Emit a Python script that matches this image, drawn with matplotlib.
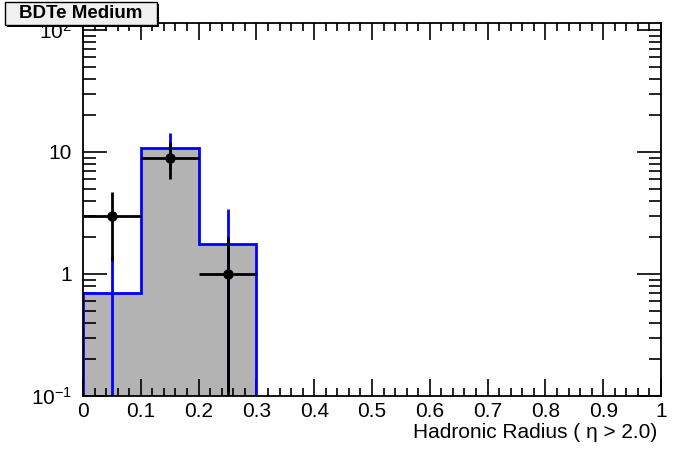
import numpy as np
import matplotlib
matplotlib.use("Agg")
import matplotlib.pyplot as plt
from matplotlib.ticker import FixedLocator, LogLocator, NullFormatter, MultipleLocator
from matplotlib.patches import Rectangle

plt.rcParams['font.family'] = ['Liberation Sans', 'DejaVu Sans']
plt.rcParams['mathtext.fontset'] = 'custom'
plt.rcParams['mathtext.rm'] = 'Liberation Sans'
plt.rcParams['mathtext.it'] = 'Liberation Sans:italic'

# Data
bin_edges = [0.0, 0.1, 0.2, 0.3, 0.4, 0.5, 0.6, 0.7, 0.8, 0.9, 1.0]
mc_values = [0.7, 10.8, 1.76, 0, 0, 0, 0, 0, 0, 0]
mc_errors = [0.7, 3.5, 1.65, 0, 0, 0, 0, 0, 0, 0]
data_values = [3, 9, 1, 0, 0, 0, 0, 0, 0, 0]
data_errors = [1.73, 3.0, 1.0, 0, 0, 0, 0, 0, 0, 0]
title = "BDTe Medium"
xlabel = "Hadronic Radius ( \u03b7 > 2.0)"
ytick_vals = [0.1, 1, 10, 100]
ytick_labels = ["$10^{-1}$", "1", "10", "$10^{2}$"]
xtick_vals = [0, 0.1, 0.2, 0.3, 0.4, 0.5, 0.6, 0.7, 0.8, 0.9, 1.0]
xtick_labels = ["0", "0.1", "0.2", "0.3", "0.4", "0.5", "0.6", "0.7", "0.8", "0.9", "1"]

ymin, ymax = 0.1, 10**2.057
tiny = 1e-6

edges = np.array(bin_edges)
centers = 0.5 * (edges[:-1] + edges[1:])
widths = np.diff(edges)
mc = np.array(mc_values, float)
mce = np.array(mc_errors, float)
dv = np.array(data_values, float)
de = np.array(data_errors, float)

fig = plt.figure(figsize=(6.96, 4.72), dpi=100)
ax = fig.add_axes([83/696, 1-396/472, (661-83)/696, (396-23)/472])
ax.set_yscale('log')
ax.set_xlim(0, 1)
ax.set_ylim(ymin, ymax)

mc_plot = np.where(mc > 0, mc, tiny)
# filled histogram
ax.bar(centers, mc_plot, width=widths, bottom=tiny, color='#b3b3b3', edgecolor='none', zorder=1)
# blue outline
ax.stairs(mc_plot, edges, baseline=tiny, color='#0000ff', linewidth=2, zorder=2)
# blue errors
m = mc > 0
ax.vlines(centers[m], np.maximum(mc[m] - mce[m], tiny), mc[m] + mce[m], color='#0000ff', linewidth=2, zorder=3)

# data points
d = dv > 0
ax.vlines(centers[d], np.maximum(dv[d] - de[d], tiny), dv[d] + de[d], color='black', linewidth=2, zorder=4)
ax.hlines(dv[d], edges[:-1][d], edges[1:][d], color='black', linewidth=2, zorder=4)
ax.plot(centers[d], dv[d], 'o', color='black', markersize=6.5, zorder=5)

# ticks
ax.yaxis.set_major_locator(FixedLocator(ytick_vals))
ax.set_yticklabels(ytick_labels)
ax.yaxis.set_minor_locator(LogLocator(base=10, subs=np.arange(2, 10)))
ax.yaxis.set_minor_formatter(NullFormatter())
ax.xaxis.set_major_locator(FixedLocator(xtick_vals))
ax.set_xticklabels(xtick_labels)
ax.xaxis.set_minor_locator(MultipleLocator(0.02))

ax.tick_params(axis='both', which='both', direction='in', top=True, right=True, width=1.2, labelsize=15, colors='black')
ax.tick_params(axis='x', which='major', length=12, pad=4)
ax.tick_params(axis='x', which='minor', length=6)
ax.tick_params(axis='y', which='major', length=17, pad=8)
ax.tick_params(axis='y', which='minor', length=9)
for s in ax.spines.values():
    s.set_linewidth(1.3)
    s.set_zorder(6)

ax.text(657/696, 1-433/472, xlabel, transform=fig.transFigure, ha='right', va='center', fontsize=15)

# title box with shadow
fig.patches.append(Rectangle((7/696, 1-27/472), 152/696, 23/472, transform=fig.transFigure,
                             facecolor='black', edgecolor='none', zorder=9))
fig.patches.append(Rectangle((5/696, 1-25/472), 152/696, 23/472, transform=fig.transFigure,
                             facecolor='#f0f0f0', edgecolor='black', linewidth=1, zorder=10))
fig.text(81/696, 1-14/472, title, ha='center', va='center', fontsize=13.5, fontweight='bold', zorder=11)

fig.savefig('out.png', dpi=100)
